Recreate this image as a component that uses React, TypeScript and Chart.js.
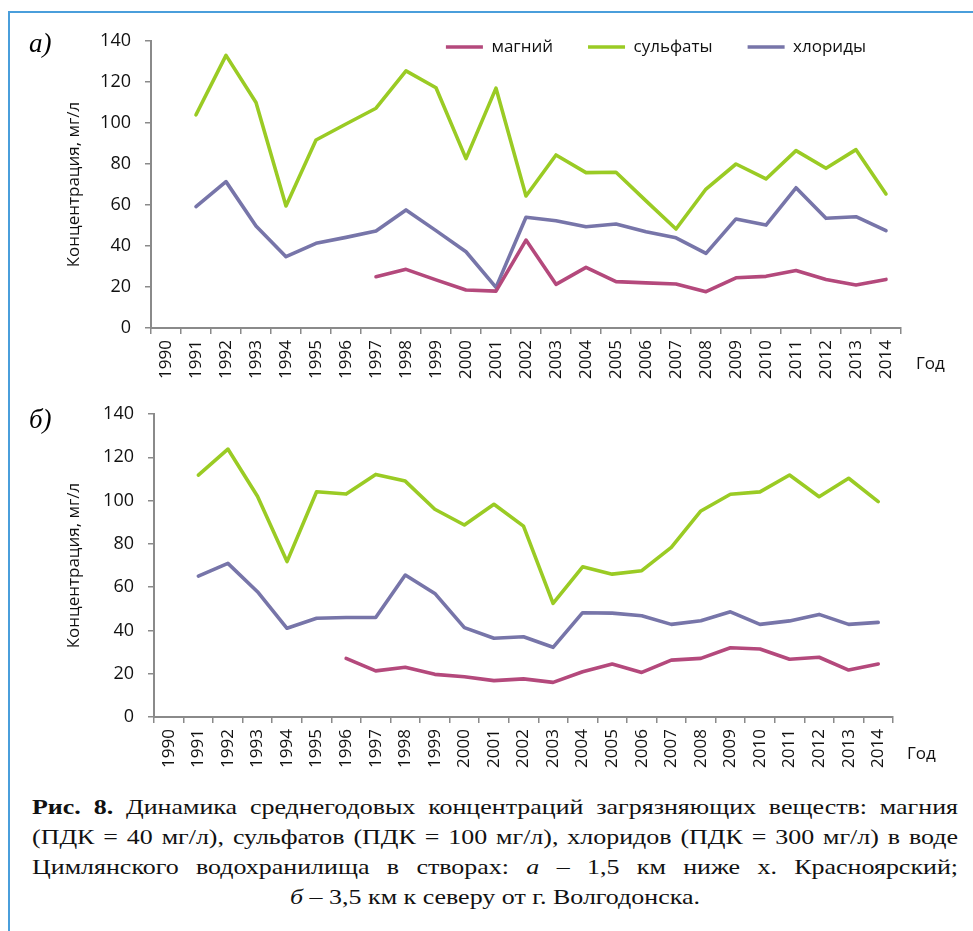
import React, { useEffect, useRef } from 'react';
import { Chart, registerables } from 'chart.js';

Chart.register(...registerables);

// ---------- data ----------
const years = ['1990', '1991', '1992', '1993', '1994', '1995', '1996', '1997', '1998', '1999', '2000', '2001', '2002', '2003', '2004', '2005', '2006', '2007', '2008', '2009', '2010', '2011', '2012', '2013', '2014'];

const seriesNames = ['магний', 'сульфаты', 'хлориды'];

// panel а)
const magnesiumA = [null, null, null, null, null, null, null, 25, 28.6, 23.5, 18.5, 18, 42.9, 21.3, 29.6, 22.6, 22, 21.5, 17.7, 24.5, 25.2, 28, 23.7, 21, 23.7];
const sulfatesA = [null, 104, 133, 110, 59.5, 91.7, 99.5, 107.2, 125.4, 117.2, 82.6, 117, 64.4, 84.4, 75.8, 76, 62, 48.3, 67.8, 80, 72.7, 86.5, 77.9, 87, 65.4];
const chloridesA = [null, 59.2, 71.4, 49.8, 34.8, 41.3, 44.2, 47.3, 57.6, 47.5, 37.2, 19.8, 54, 52.3, 49.4, 50.7, 47, 44, 36.4, 53.2, 50.2, 68.4, 53.5, 54.3, 47.5];

// panel б)
const magnesiumB = [null, null, null, null, null, null, 27.1, 21.3, 23, 19.7, 18.6, 16.8, 17.6, 16, 20.9, 24.5, 20.6, 26.3, 27.1, 32, 31.4, 26.7, 27.6, 21.7, 24.5];
const sulfatesB = [null, 111.8, 123.8, 102, 71.8, 104.1, 103, 112.1, 109, 96, 88.7, 98.3, 88.2, 52.5, 69.4, 66, 67.6, 78.4, 95.2, 102.9, 104, 111.8, 101.8, 110.3, 99.5];
const chloridesB = [null, 65.1, 71, 57.9, 41, 45.6, 46, 46, 65.6, 57.1, 41.3, 36.4, 37.1, 32.2, 48.2, 48, 46.8, 42.8, 44.5, 48.6, 42.8, 44.4, 47.4, 42.8, 43.7];

const yMin = 0;
const yMax = 140;
const yStep = 20;

const yTitle = 'Концентрация, мг/л';
const xTitle = 'Год';

// ---------- styles ----------
const colors = ['#B4497C', '#9ACB24', '#7775A9'];
const FONT = '"Open Sans", "DejaVu Sans", sans-serif';
const AXIS = '#8a8a8a';

Chart.defaults.font.family = FONT;
Chart.defaults.font.size = 17;
Chart.defaults.color = '#111';

// legend overlaid on the plot (as in the original): takes no layout space
const legendOverlay = {
  id: 'legendOverlay',
  beforeLayout(chart: any) {
    const lg = chart.legend;
    if (lg && !lg.__patched) {
      const orig = lg.fit;
      lg.fit = function () {
        orig.call(this);
        this.height = 0;
      };
      lg.__patched = true;
    }
  },
  afterLayout(chart: any) {
    const lg = chart.legend;
    if (lg) {
      lg.top = 3.5;
      lg.bottom = 90;
      lg.height = 86.5;
    }
  },
};

type PanelProps = {
  data: (number | null)[][];
  legend: boolean;
  width: number;
  height: number;
  pad: { left: number; top: number; right: number; bottom: number };
  yWidth: number;
  xHeight: number;
};

function Panel({ data, legend, width, height, pad, yWidth, xHeight }: PanelProps) {
  const ref = useRef<HTMLCanvasElement | null>(null);
  useEffect(() => {
    if (!ref.current) return;
    const chart = new Chart(ref.current, {
      type: 'line',
      data: {
        labels: years,
        datasets: data.map((d, i) => ({
          label: seriesNames[i],
          data: d,
          borderColor: colors[i],
          backgroundColor: colors[i],
          borderWidth: 3.6,
          borderCapStyle: 'round',
          borderJoinStyle: 'round',
          pointRadius: 0,
          tension: 0,
          spanGaps: false,
        })),
      },
      options: {
        animation: false,
        responsive: false,
        maintainAspectRatio: false,
        layout: { padding: pad },
        plugins: {
          legend: {
            display: legend,
            position: 'top',
            align: 'end',
            fullSize: false,
            labels: {
              usePointStyle: true,
              pointStyle: 'line',
              pointStyleWidth: 37,
              padding: 35,
              color: '#111',
              font: { size: 17 },
            },
          },
          tooltip: { enabled: false },
        },
        scales: {
          x: {
            type: 'category',
            offset: true,
            grid: {
              offset: true,
              drawOnChartArea: false,
              drawTicks: true,
              tickLength: 6,
              color: AXIS,
              lineWidth: 1.5,
            },
            border: { color: AXIS, width: 2 },
            ticks: {
              autoSkip: false,
              minRotation: 90,
              maxRotation: 90,
              padding: 6,
              font: { size: 17 },
              color: '#111',
            },
            afterFit: (s: any) => {
              s.height = xHeight;
            },
          },
          y: {
            min: yMin,
            max: yMax,
            grid: {
              drawOnChartArea: false,
              drawTicks: true,
              tickLength: 6,
              color: AXIS,
              lineWidth: 1.5,
            },
            border: { color: AXIS, width: 2 },
            ticks: {
              stepSize: yStep,
              padding: 14,
              font: { size: 18 },
              color: '#111',
            },
            title: {
              display: true,
              text: yTitle,
              font: { size: 17 },
              color: '#111',
              padding: { top: 64, bottom: 0 },
            },
            afterFit: (s: any) => {
              s.width = yWidth;
            },
          },
        },
      },
      plugins: legend ? [legendOverlay] : [],
    } as any);
    return () => chart.destroy();
  }, []);
  return <canvas ref={ref} width={width} height={height} style={{ width, height, display: 'block' }} />;
}

const abs = (left: number, top: number, extra: React.CSSProperties = {}): React.CSSProperties => ({
  position: 'absolute',
  left,
  top,
  ...extra,
});

const CAP_SCALE = 1.18;

export default function App() {
  const serif = '"Liberation Serif", "DejaVu Serif", serif';
  const lineStyle: React.CSSProperties = {
    textAlign: 'justify',
    textAlignLast: 'justify' as any,
    whiteSpace: 'nowrap',
  };
  return (
    <div style={{ position: 'absolute', left: 0, top: 0, width: 973, height: 931, overflow: 'hidden', background: '#fff' }}>
      <div style={abs(8, 11, { width: 990, height: 960, border: '2px solid #4a9edb', boxSizing: 'border-box' })} />
      <div style={abs(0, 0)}>
        <Panel
          data={[magnesiumA, sulfatesA, chloridesA]}
          legend={true}
          width={973}
          height={390}
          pad={{ left: 0, top: 41, right: 72, bottom: 0 }}
          yWidth={151}
          xHeight={62}
        />
      </div>
      <div style={abs(0, 380)}>
        <Panel
          data={[magnesiumB, sulfatesB, chloridesB]}
          legend={false}
          width={973}
          height={400}
          pad={{ left: 0, top: 34, right: 80, bottom: 0 }}
          yWidth={154}
          xHeight={63}
        />
      </div>
      <div style={abs(29, 28, { font: `italic 27px ${serif}` })}>а)</div>
      <div style={abs(29, 404, { font: `italic 27px ${serif}` })}>б)</div>
      <div style={abs(916, 351, { font: `17px ${FONT}`, color: '#111' })}>{xTitle}</div>
      <div style={abs(907, 741, { font: `17px ${FONT}`, color: '#111' })}>{xTitle}</div>
      <div
        style={abs(32, 792, {
          width: 926 / CAP_SCALE,
          font: `22px ${serif}`,
          lineHeight: '30px',
          color: '#111',
          transform: `scaleX(${CAP_SCALE})`,
          transformOrigin: 'left top',
        })}
      >
        <div style={lineStyle}>
          <b>Рис. 8.</b> Динамика среднегодовых концентраций загрязняющих веществ: магния
        </div>
        <div style={lineStyle}>
          (ПДК = 40 мг/л), сульфатов (ПДК = 100 мг/л), хлоридов (ПДК = 300 мг/л) в воде
        </div>
        <div style={lineStyle}>
          Цимлянского водохранилища в створах: <i>а</i> – 1,5 км ниже х. Красноярский;
        </div>
        <div style={{ textAlign: 'center' }}>
          <i>б</i> – 3,5 км к северу от г. Волгодонска.
        </div>
      </div>
    </div>
  );
}
